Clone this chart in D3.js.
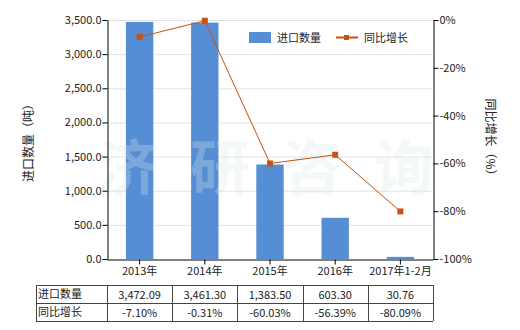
<!DOCTYPE html>
<html>
<head>
<meta charset="utf-8">
<script src="https://cdn.jsdelivr.net/npm/d3@7"></script>
<style>
  body { margin: 0; background: #fff; }
  svg text { font-family: "Noto Sans CJK SC", "Microsoft YaHei", sans-serif; }
</style>
</head>
<body>
<div id="chart"></div>
<script>
// data
const categories = ["2013年", "2014年", "2015年", "2016年", "2017年1-2月"];
const importQty = [3472.09, 3461.30, 1383.50, 603.30, 30.76];
const yoyGrowth = [-7.10, -0.31, -60.03, -56.39, -80.09];
const qtyLabels = ["3,472.09", "3,461.30", "1,383.50", "603.30", "30.76"];
const yoyLabels = ["-7.10%", "-0.31%", "-60.03%", "-56.39%", "-80.09%"];
const leftTicks = [0, 500, 1000, 1500, 2000, 2500, 3000, 3500];
const rightTicks = [0, -20, -40, -60, -80, -100];

const W = 520, H = 330;
const plot = { left: 107, right: 433, top: 20, bottom: 259 };
const barColor = "#558ed5";
const lineColor = "#c9520f";

const svg = d3.select("#chart").append("svg")
    .attr("width", W).attr("height", H);

const x = d3.scaleBand().domain(categories)
    .range([plot.left, plot.right]).paddingInner(0.58).paddingOuter(0.29);
const xc = d => x(d) + x.bandwidth() / 2;
const yL = d3.scaleLinear().domain([0, 3500]).range([plot.bottom, plot.top]);
const yR = d3.scaleLinear().domain([-100, 0]).range([plot.bottom, plot.top]);

// gridlines
svg.append("g").selectAll("line")
    .data(leftTicks.slice(1))
    .join("line")
    .attr("x1", plot.left).attr("x2", plot.right)
    .attr("y1", d => yL(d) + 0.5).attr("y2", d => yL(d) + 0.5)
    .attr("stroke", "#e3e3e3");

// bars
svg.append("g").selectAll("rect")
    .data(importQty)
    .join("rect")
    .attr("x", (d, i) => x(categories[i]))
    .attr("width", x.bandwidth())
    .attr("y", d => yL(d))
    .attr("height", d => plot.bottom - yL(d))
    .attr("fill", barColor);

// watermark (faint)
svg.append("g").selectAll("text")
    .data(["济", "研", "咨", "询"])
    .join("text")
    .attr("x", (d, i) => 128 + i * 92)
    .attr("y", 190)
    .attr("text-anchor", "middle")
    .attr("font-size", 60)
    .attr("font-weight", "bold")
    .attr("fill", "#dde8e8")
    .attr("opacity", 0.28)
    .text(d => d);

// line + markers
const line = d3.line()
    .x((d, i) => xc(categories[i]))
    .y(d => yR(d));
svg.append("path")
    .datum(yoyGrowth)
    .attr("d", line)
    .attr("fill", "none")
    .attr("stroke", lineColor)
    .attr("stroke-width", 1);
svg.append("g").selectAll("rect")
    .data(yoyGrowth)
    .join("rect")
    .attr("x", (d, i) => xc(categories[i]) - 3)
    .attr("y", d => yR(d) - 3)
    .attr("width", 6).attr("height", 6)
    .attr("fill", lineColor);

// axes
const axisL = svg.append("g")
    .attr("transform", `translate(${plot.left + 0.5},0)`)
    .call(d3.axisLeft(yL).tickValues(leftTicks).tickSize(5).tickSizeOuter(0)
        .tickFormat(d3.format(",.1f")));
const axisR = svg.append("g")
    .attr("transform", `translate(${plot.right + 0.5},0)`)
    .call(d3.axisRight(yR).tickValues(rightTicks).tickSize(5).tickSizeOuter(0)
        .tickFormat(d => d + "%"));
const axisB = svg.append("g")
    .attr("transform", `translate(0,${plot.bottom + 0.5})`)
    .call(d3.axisBottom(x).tickSize(5).tickSizeOuter(0));
[axisL, axisR, axisB].forEach(g => {
    g.selectAll("path, line").attr("stroke", "#000");
    g.selectAll("text").attr("font-size", 11).attr("fill", "#222")
        .style("font-family", '"Noto Sans CJK SC", sans-serif');
});
axisL.selectAll("text").attr("x", -6);
axisR.selectAll("text").attr("x", 6);
axisB.selectAll("text").attr("y", 8);

// axis titles
svg.append("text")
    .attr("transform", "translate(33,140) rotate(-90)")
    .attr("text-anchor", "middle").attr("font-size", 12).attr("fill", "#222")
    .text("进口数量（吨）");
svg.append("text")
    .attr("transform", "translate(486,140) rotate(90)")
    .attr("text-anchor", "middle").attr("font-size", 12).attr("fill", "#222")
    .text("同比增长（%）");

// legend
const lg = svg.append("g");
lg.append("rect").attr("x", 249).attr("y", 32).attr("width", 22).attr("height", 11)
    .attr("fill", barColor);
lg.append("text").attr("x", 277).attr("y", 42).attr("font-size", 11).attr("fill", "#222")
    .text("进口数量");
lg.append("line").attr("x1", 336).attr("x2", 358).attr("y1", 37.5).attr("y2", 37.5)
    .attr("stroke", lineColor).attr("stroke-width", 2);
lg.append("rect").attr("x", 344).attr("y", 35).attr("width", 5).attr("height", 5)
    .attr("fill", lineColor);
lg.append("text").attr("x", 364).attr("y", 42).attr("font-size", 11).attr("fill", "#222")
    .text("同比增长");

// data table
const colX = [36, 107].concat(categories.map((c, i) => x.range()[0] + x.step() * (i + 1)));
const rowY = [285, 303, 321];
const rows = [["进口数量", qtyLabels], ["同比增长", yoyLabels]];
const tbl = svg.append("g");
tbl.append("g").selectAll("line").data(rowY).join("line")
    .attr("x1", colX[0]).attr("x2", plot.right)
    .attr("y1", d => d + 0.5).attr("y2", d => d + 0.5)
    .attr("stroke", "#444");
tbl.append("g").selectAll("line").data(colX).join("line")
    .attr("x1", d => Math.round(d) + 0.5).attr("x2", d => Math.round(d) + 0.5)
    .attr("y1", rowY[0]).attr("y2", rowY[2])
    .attr("stroke", "#444");
rows.forEach((r, ri) => {
    const ty = rowY[ri] + 13;
    tbl.append("text").attr("x", colX[0] + 2).attr("y", ty)
        .attr("font-size", 11).attr("fill", "#222").text(r[0]);
    tbl.append("g").selectAll("text").data(r[1]).join("text")
        .attr("x", (d, i) => xc(categories[i]))
        .attr("y", ty + 1)
        .attr("text-anchor", "middle")
        .attr("font-size", 11).attr("fill", "#222")
        .text(d => d);
});
</script>
</body>
</html>
